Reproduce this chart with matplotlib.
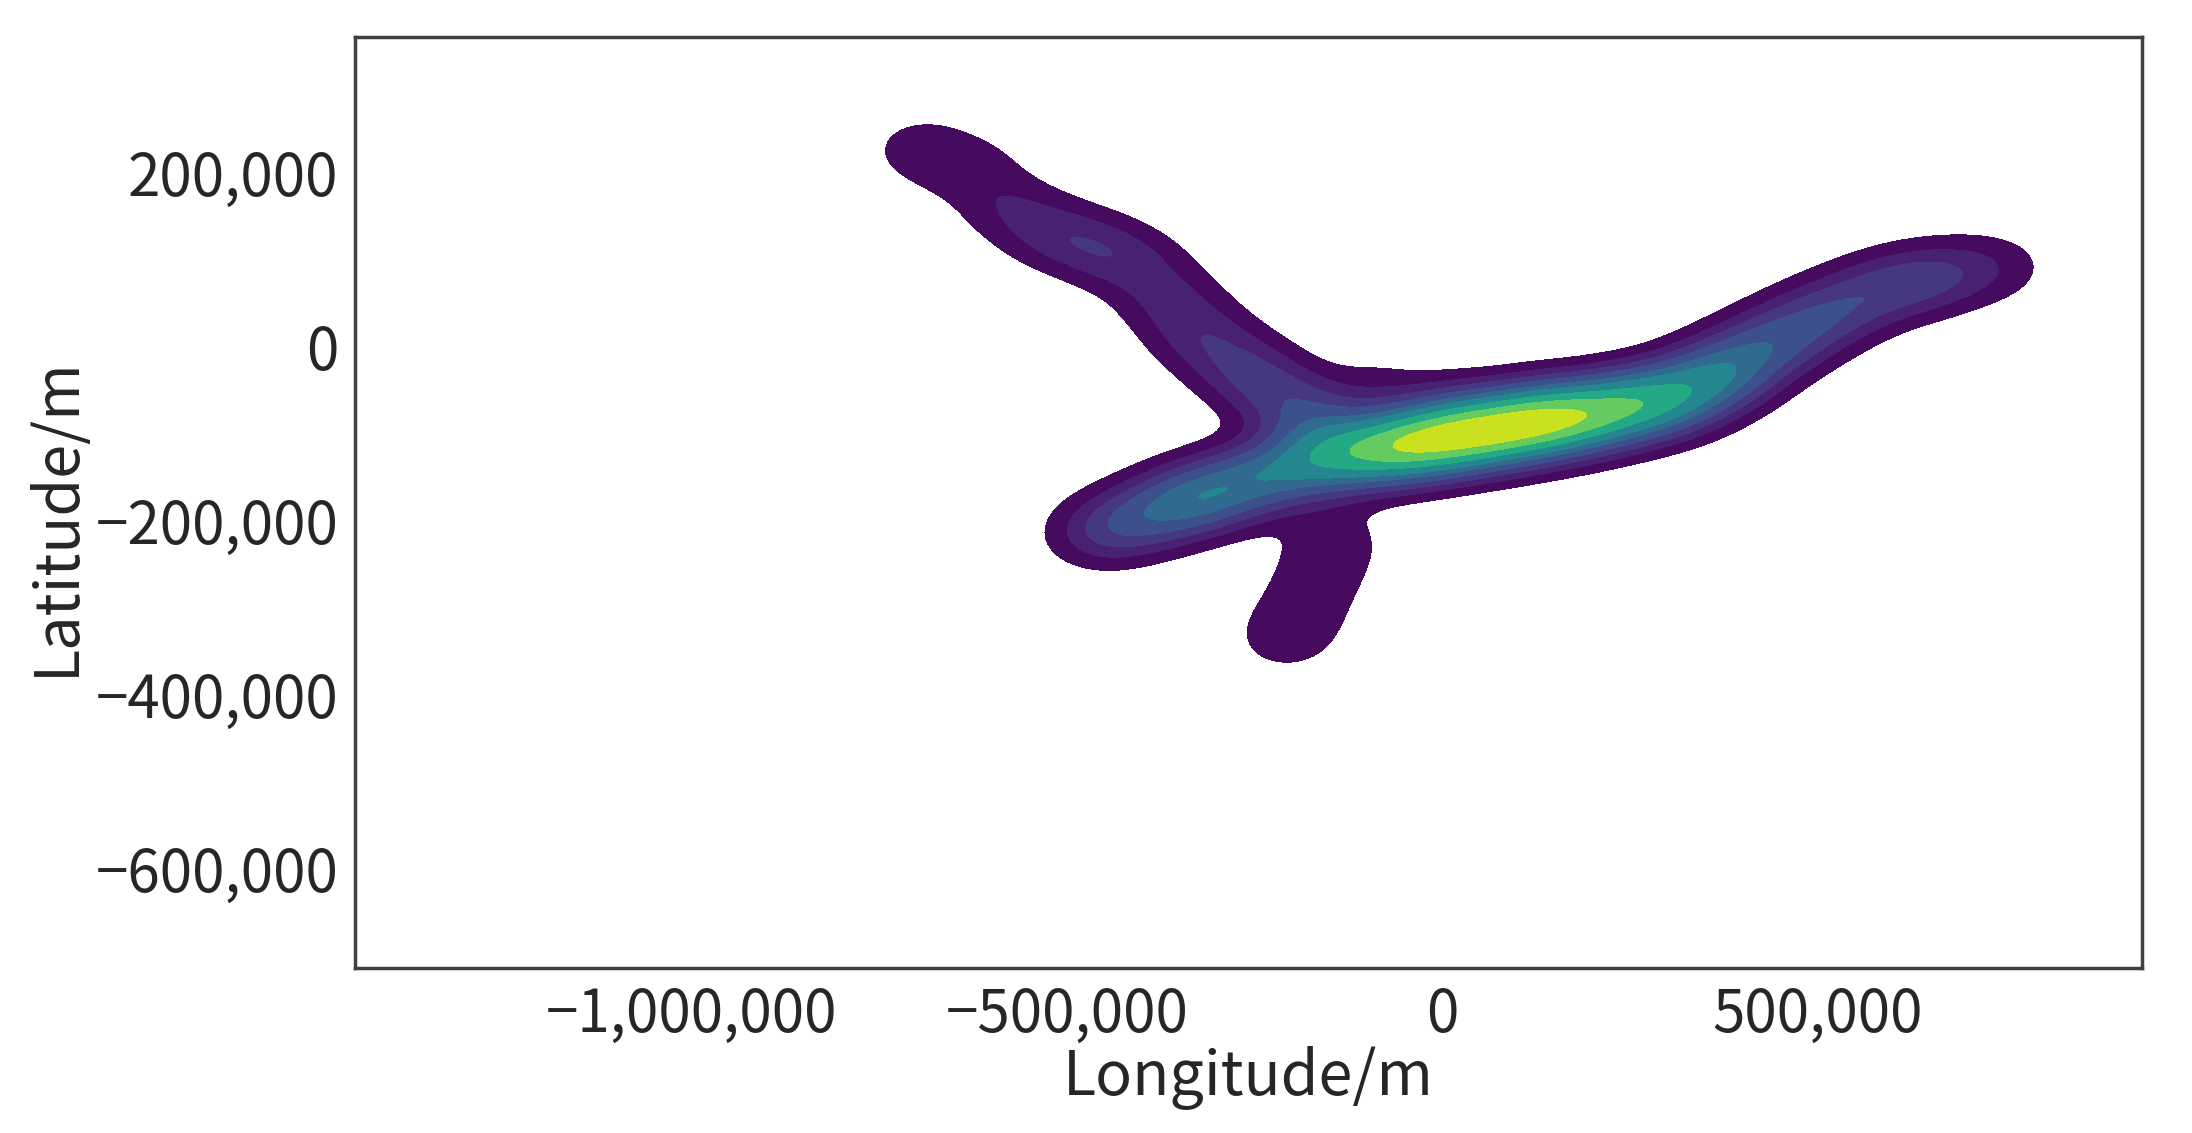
import matplotlib
matplotlib.use('Agg')
import matplotlib.pyplot as plt
from matplotlib.ticker import FuncFormatter, MultipleLocator
import numpy as np

plt.rcParams['font.family'] = ['Noto Sans CJK SC', 'DejaVu Sans']
plt.rcParams['axes.unicode_minus'] = True

lon = np.array([
    # upper-left arm
    -694e3, -629e3, -578e3, -522e3, -461e3, -405e3, -362e3, -321e3, -269e3, -218e3, -168e3,
    # lower-left arm
    -465e3, -429e3, -377e3, -321e3, -265e3, -218e3, -172e3,
    # southern spur
    -144e3, -162e3, -185e3, -209e3,
    # main ridge and eastern arm
    -125e3, -75e3, -23e3, 33e3, 89e3, 145e3, 201e3, 257e3, 313e3, 369e3, 425e3, 481e3, 536e3, 592e3, 648e3, 704e3, 751e3,
    # sparse records north of the ridge
    -88e3, 15e3, 126e3,
])
lat = np.array([
    227e3, 203e3, 161e3, 132e3, 114e3, 93e3, 53e3, 13e3, -22e3, -54e3, -87e3,
    -217e3, -205e3, -189e3, -172e3, -156e3, -144e3, -132e3,
    -220e3, -260e3, -300e3, -337e3,
    -125e3, -117e3, -109e3, -101e3, -93e3, -85e3, -77e3, -67e3, -56e3, -32e3, -3e3, 24e3, 48e3, 68e3, 79e3, 89e3, 93e3,
    -48e3, -64e3, -64e3,
])
count = np.array([
    1.6, 1.6, 1.7, 2.2, 2.4, 2.0, 2.2, 2.6, 3.0, 3.3, 3.8,
    1.8, 2.8, 4.5, 6.0, 4.5, 4.0, 5.0,
    1.4, 1.3, 1.3, 1.5,
    6.0, 9.0, 11.0, 11.5, 11.5, 11.0, 9.5, 8.5, 7.5, 7.0, 5.0, 4.0, 3.2, 2.8, 2.8, 1.5, 0.9,
    1.2, 1.2, 1.0,
])

xlim = (-1.449e6, 0.932e6)
ylim = (-7.14e5, 3.56e5)

# gaussian kernel density on a grid
bw_lon = 48000
bw_lat = 27000
gx = np.linspace(xlim[0], xlim[1], 600)
gy = np.linspace(ylim[0], ylim[1], 360)
xx, yy = np.meshgrid(gx, gy)
density = np.zeros_like(xx)
for x0, y0, w in zip(lon, lat, count):
    density += w * np.exp(-0.5 * (((xx - x0) / bw_lon) ** 2 + ((yy - y0) / bw_lat) ** 2))
density /= density.sum()

# iso-proportion levels (thresh=0.05, 10 levels)
isoprop = np.linspace(0.05, 1, 10)
vals = np.sort(density.ravel())[::-1]
cum = np.cumsum(vals) / vals.sum()
idx = np.clip(np.searchsorted(cum, 1 - isoprop), 0, len(vals) - 1)
levels = vals[idx]

fig = plt.figure(figsize=(10.96, 5.665), dpi=200)
ax = fig.add_axes([0.162, 0.1456, 0.815, 0.8217])
ax.contourf(xx, yy, density, levels=levels, cmap='viridis')

ax.set_xlim(xlim)
ax.set_ylim(ylim)
ax.xaxis.set_major_locator(MultipleLocator(500000))
ax.yaxis.set_major_locator(MultipleLocator(200000))
fmt = FuncFormatter(lambda v, p: f'{v:,.0f}'.replace('-', '\u2212'))
ax.xaxis.set_major_formatter(fmt)
ax.yaxis.set_major_formatter(fmt)
ax.tick_params(length=0, labelsize=21, colors='#262626', pad=6)
for s in ax.spines.values():
    s.set_color('#404040')
    s.set_linewidth(1.25)

ax.set_xlabel('Longitude/m', fontsize=22, color='#262626', labelpad=0)
ax.set_ylabel('Latitude/m', fontsize=22, color='#262626')
ax.yaxis.set_label_coords(-0.1495, 0.485)

fig.savefig('out.png', dpi=200)
